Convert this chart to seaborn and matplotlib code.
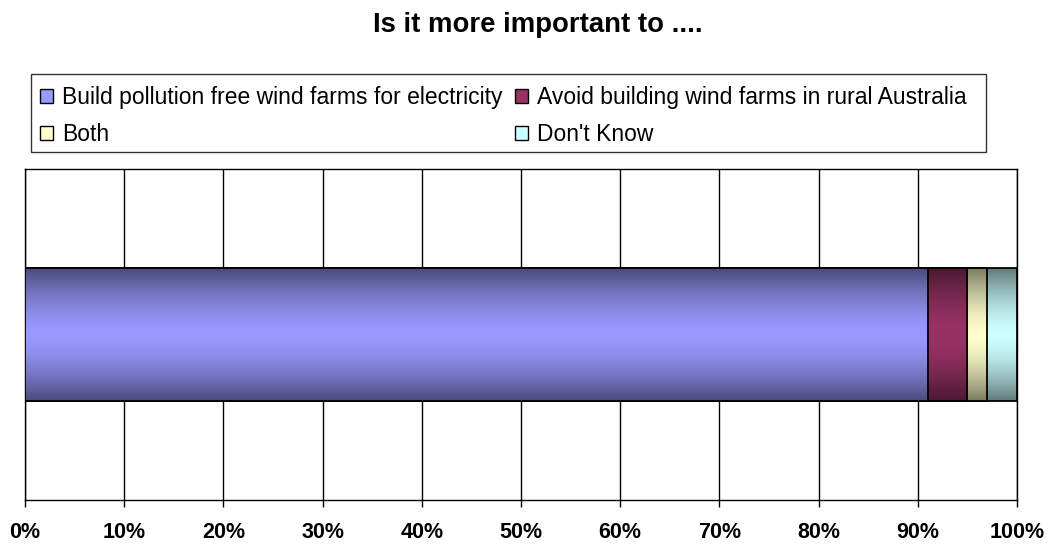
import numpy as np
import pandas as pd
import matplotlib
matplotlib.use('Agg')
import matplotlib.pyplot as plt
from matplotlib.patches import Patch, Rectangle
from matplotlib.colors import to_rgb
import seaborn as sns

# data (percent of respondents)
answers = ['Build pollution free wind farms for electricity',
           'Avoid building wind farms in rural Australia',
           'Both',
           "Don't Know"]
shares = [91, 4, 2, 3]
colors = ['#9999FF', '#993366', '#FFFFCC', '#CCFFFF']
ticks = list(range(0, 101, 10))

sns.set_style('white')
plt.rcParams['font.family'] = ['Liberation Sans', 'DejaVu Sans']
plt.rcParams['text.color'] = 'black'
plt.rcParams['xtick.color'] = 'black'

fig = plt.figure(figsize=(10.51, 5.47), dpi=100)
ax = fig.add_axes([25/1051, 1 - 500/547, 992/1051, 331/547])

# stacked bar: draw cumulative totals back to front
cum = np.cumsum(shares)
df = pd.DataFrame({'q': [''] * len(answers), 'total': cum, 'answer': answers})
for i in range(len(answers) - 1, -1, -1):
    sub = df.iloc[[i]]
    before = set(ax.patches)
    sns.barplot(data=sub, x='total', y='q', orient='h', color=colors[i],
                width=0.4, ax=ax, edgecolor='black', linewidth=1.3)
    new = [p for p in ax.patches if p not in before]
    z = 2 + 2 * (len(answers) - i)
    for p in new:
        # excel-like gradient: dark at top/bottom, light in the middle
        bb = p.get_bbox()
        c = np.array(to_rgb(colors[i]))
        t = np.abs(np.linspace(-1, 1, 200))
        f = 1 - 0.52 * t ** 1.6
        grad = (c[None, :] * f[:, None])[:, None, :]
        im = ax.imshow(grad, extent=[bb.x0, bb.x1, bb.y1, bb.y0], aspect='auto',
                       zorder=z, interpolation='bilinear')
        im.set_clip_path(p)
        p.set_facecolor('none')
        p.set_zorder(z + 1)

ax.set_xlim(0, 100)
ax.set_ylim(0.5, -0.5)
ax.set_xticks(ticks)
ax.set_xticklabels([f'{t}%' for t in ticks], fontsize=15.5, fontweight='bold')
ax.set_yticks([])
ax.set_xlabel('')
ax.set_ylabel('')
ax.grid(axis='x', color='black', linewidth=1)
ax.set_axisbelow(True)
for s in ax.spines.values():
    s.set_color('black')
    s.set_linewidth(1)
ax.tick_params(axis='x', direction='out', length=5, width=1, color='black', pad=11,
               bottom=True)

fig.text(538/1051, 1 - 25/547, 'Is it more important to ....', ha='center', va='center',
         fontsize=19.8, fontweight='bold')

# legend fills by column, so reorder to read row by row
order = [0, 2, 1, 3]
handles = [Patch(facecolor=colors[k], edgecolor='black', linewidth=1) for k in order]
labels = [answers[k] for k in order]
leg = fig.legend(handles, labels, ncol=2, loc='upper left',
                 bbox_to_anchor=(31/1051, 1 - 77/547),
                 fontsize=16.5, frameon=False, handlelength=0.55,
                 handleheight=0.55, handletextpad=0.4, borderaxespad=0,
                 labelspacing=0.62, columnspacing=0.55, borderpad=0.4)

# legend frame, as wide as in the original
fig.add_artist(Rectangle((31/1051, 1 - 152/547), 955/1051, 78/547,
                         transform=fig.transFigure, fill=False,
                         edgecolor='#333333', linewidth=1))

fig.savefig('out.png', dpi=100, facecolor='white')
